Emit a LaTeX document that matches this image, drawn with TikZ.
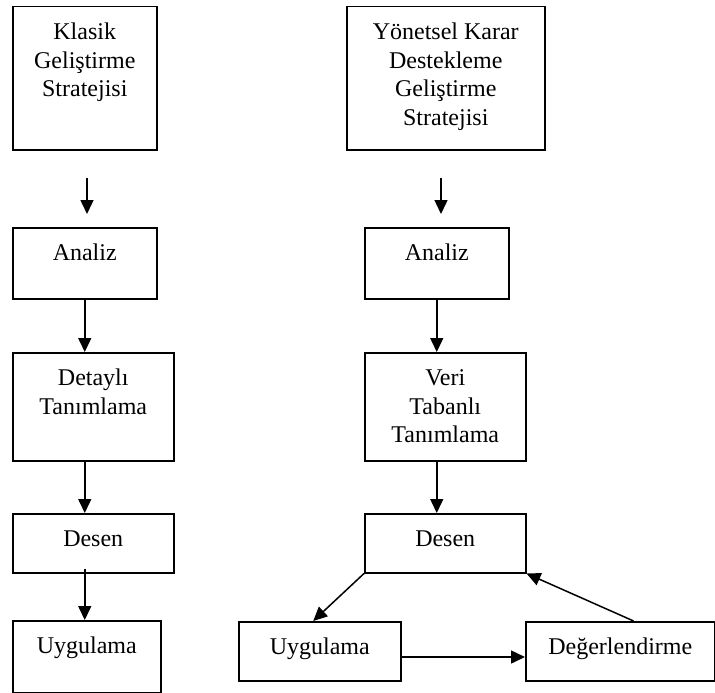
\documentclass[tikz,border=0pt]{standalone}
\usepackage{fontspec}
\setmainfont{Liberation Serif}
\usetikzlibrary{arrows.meta,calc}
\newcommand{\kutuyazi}[3]{\parbox[t][#2][t]{#1}{\centering\rule{0pt}{33pt}#3}}
\begin{document}
\begin{tikzpicture}[x=1pt, y=-1pt,
  kutu/.style={draw, line width=1.5pt, inner sep=0pt, anchor=north west, font=\fontsize{24}{28.5}\selectfont},
  ok/.style={-{Triangle[width=13pt,length=14pt]}, line width=1.5pt}]
  \useasboundingbox (0,0) rectangle (715,693);
  % left column
  \node[kutu] (k1) at (12,6) {\kutuyazi{144pt}{143pt}{Klasik\\Geliştirme\\Stratejisi}};
  \node[kutu] (a1) at (12,227) {\kutuyazi{144pt}{71pt}{Analiz}};
  \node[kutu] (d1) at (12,352) {\kutuyazi{161pt}{108pt}{Detaylı\\Tanımlama}};
  \node[kutu] (s1) at (12,513) {\kutuyazi{161pt}{59pt}{Desen}};
  \node[kutu] (u1) at (12,620) {\kutuyazi{148pt}{72pt}{Uygulama}};
  \coordinate (o1a) at (87,178);
  \coordinate (o1b) at (87,214);
  \draw[ok] (o1a) -- (o1b);
  \draw[ok] (a1.south) -- (a1.south |- d1.north);
  \draw[ok] (a1.south |- d1.south) -- (a1.south |- s1.north);
  \draw[ok] ($(a1.south |- s1.south)+(0,-5)$) -- (a1.south |- u1.north);
  % right column
  \node[kutu] (k2) at (346,6) {\kutuyazi{198pt}{143pt}{Yönetsel Karar\\Destekleme\\Geliştirme\\Stratejisi}};
  \node[kutu] (a2) at (364,227) {\kutuyazi{144pt}{71pt}{Analiz}};
  \node[kutu] (v2) at (364,352) {\kutuyazi{161pt}{108pt}{Veri\\Tabanlı\\Tanımlama}};
  \node[kutu] (s2) at (364,513) {\kutuyazi{161pt}{59pt}{Desen}};
  \node[kutu] (u2) at (238,621) {\kutuyazi{162pt}{59pt}{Uygulama}};
  \node[kutu] (g2) at (525,621) {\kutuyazi{189pt}{59pt}{Değerlendirme}};
  \coordinate (o2a) at (441,178);
  \coordinate (o2b) at (441,214);
  \draw[ok] (o2a) -- (o2b);
  \draw[ok] (a2.south) -- (a2.south |- v2.north);
  \draw[ok] (a2.south |- v2.south) -- (a2.south |- s2.north);
  % cycle
  \draw[ok] (s2.south west) -- ($(u2.north west)!0.46!(u2.north east)$);
  \draw[ok] ($(u2.north east)+(0,36)$) -- ($(g2.north west)+(0,36)$);
  \draw[ok] ($(g2.north west)!0.57!(g2.north east)$) -- (s2.south east);
\end{tikzpicture}
\end{document}
